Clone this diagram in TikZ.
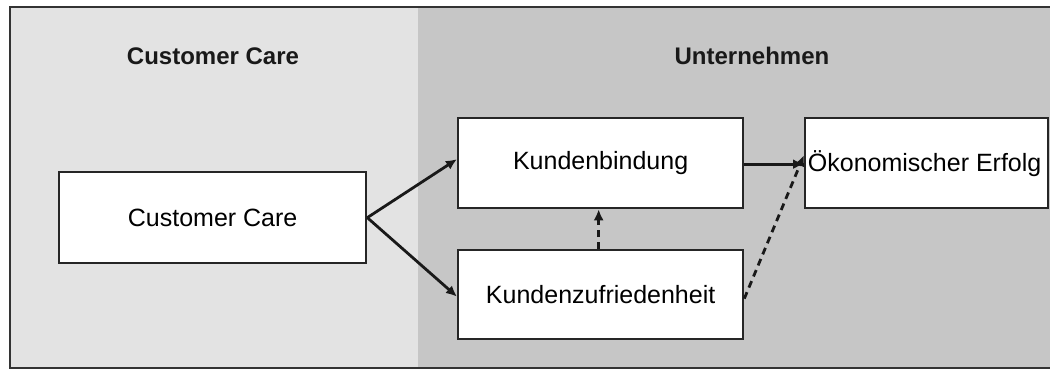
\documentclass[tikz,border=0pt]{standalone}
\usepackage{fontspec}
\setmainfont{Liberation Sans}
\usetikzlibrary{arrows.meta}
\definecolor{panelL}{HTML}{E3E3E3}
\definecolor{panelR}{HTML}{C6C6C6}
\definecolor{frame}{HTML}{333333}
\begin{document}
\begin{tikzpicture}[x=1pt,y=-1pt,
  box/.style={draw=black!85,line width=2.3pt,fill=white,inner sep=0pt,anchor=north west,font=\fontsize{25}{28}\selectfont},
  title/.style={font=\fontsize{24}{28}\selectfont\bfseries,text=black!90},
  conn/.style={line width=2.8pt,black!90,-{Latex[length=11pt,width=10pt]}},
  dconn/.style={conn,dash pattern=on 7pt off 5pt}]
\useasboundingbox (0,0) rectangle (1050,370);
\fill[white] (0,0) rectangle (1050,370);
\fill[panelL] (10,7) rectangle (418,368);
\fill[panelR] (418,7) rectangle (1052,368);
\draw[frame,line width=2pt] (1052,7) -- (10,7) -- (10,368) -- (1052,368);
\node[title] (t1) at (213,56) {Customer Care};
\node[title] (t2) at (752,56) {Unternehmen};
\node[box,minimum width=307pt,minimum height=91pt] (cc) at (58,171) {Customer Care};
\node[box,minimum width=285pt,minimum height=90pt] (kb) at (457,117) {Kundenbindung};
\node[box,minimum width=285pt,minimum height=89pt] (kz) at (457,249) {Kundenzufriedenheit};
\node[box,minimum width=243pt,minimum height=90pt] (oe) at (804,117) {\hspace*{-4pt}Ökonomischer Erfolg};
\draw[conn] (cc.east) -- ([yshift=4pt]kb.west);
\draw[conn] (cc.east) -- ([yshift=-2pt]kz.west);
\draw[dconn] ([xshift=-2pt]kz.north) -- ([xshift=-2pt]kb.south);
\draw[conn] ([yshift=-1pt]kb.east) -- ([yshift=-1pt]oe.west);
\draw[dconn] ([yshift=-4pt]kz.east) -- ([yshift=8pt]oe.west);
\end{tikzpicture}
\end{document}
